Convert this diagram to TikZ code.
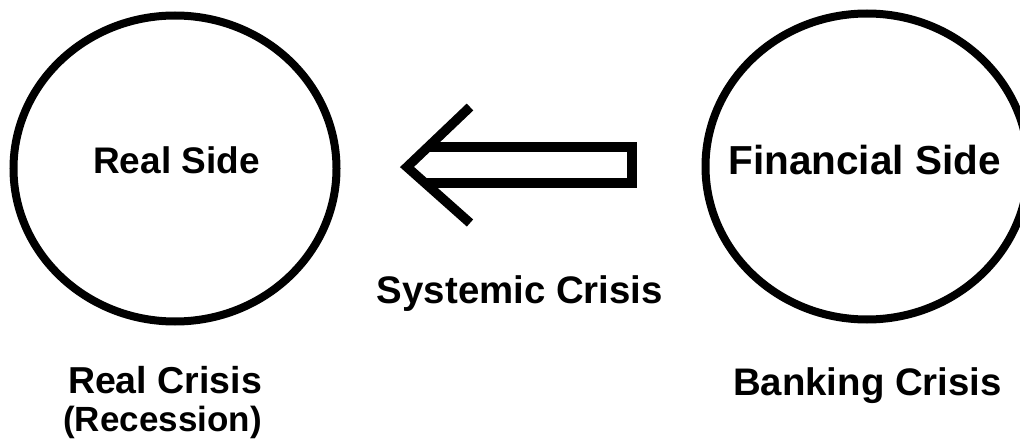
\documentclass[tikz,border=0pt]{standalone}
\usepackage{fontspec}
\setmainfont{Liberation Sans}
\usetikzlibrary{shapes.geometric}
\begin{document}
\begin{tikzpicture}[x=1pt,y=-1pt,
  sidecircle/.style={draw=black,line width=8pt,ellipse,minimum width=323pt,minimum height=306pt,inner sep=0pt},
  lbl/.style={anchor=base,inner sep=0pt,font=\bfseries\fontsize{#1}{#1}\selectfont},
  lbl/.default=38,
  blockarrow/.style={draw=black,line width=9.5pt,line join=miter,line cap=butt}]
\useasboundingbox (0,0) rectangle (1020,441);
\clip (0,0) rectangle (1020,441);
\fill[white] (0,0) rectangle (1020,441);
% circles
\node[sidecircle] (real) at (175,168.5) {};
\node[sidecircle] (fin) at (867,166.5) {};
% labels
\node[lbl=37] (realside) at (176.5,174) {Real Side};
\node[lbl=40.5] (finside) at (864.5,175) {Financial Side};
\node[lbl=38.4] (sys) at (520,303) {Systemic Crisis};
\node[lbl=37.5] (realcrisis) at (165,393) {Real Crisis};
\node[lbl=35] (recession) at (162.5,431) {(Recession)};
\node[lbl=38.4] (banking) at (867.5,395) {Banking Crisis};
% block arrow
\coordinate (tip) at (407,167);
\coordinate (ub) at (470,107);
\coordinate (lb) at (470,223);
\coordinate (st) at (428,147);
\coordinate (sb) at (425,183);
\coordinate (et) at (632,147);
\coordinate (eb) at (632,183);
\draw[blockarrow] (ub) -- (tip) -- (lb);
\draw[blockarrow] (st) -- (et) -- (eb) -- (sb);
\end{tikzpicture}
\end{document}
